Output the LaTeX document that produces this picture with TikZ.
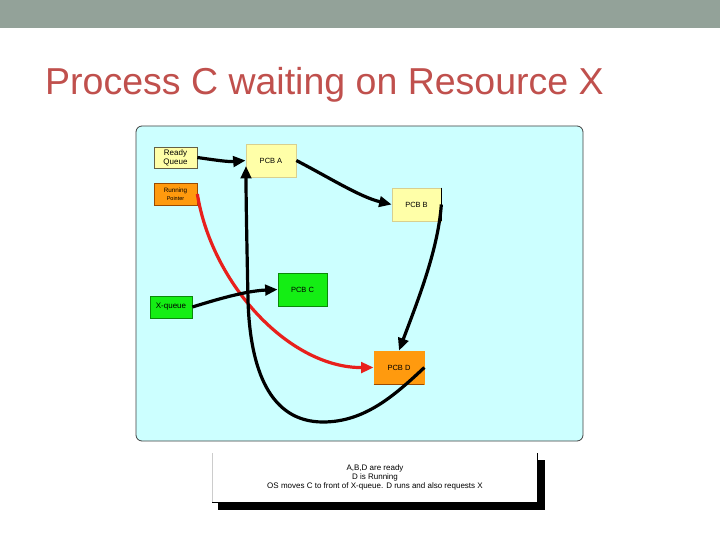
\documentclass[tikz,border=0pt]{standalone}
\usepackage{fontspec}
\setmainfont{Liberation Sans}
\usetikzlibrary{arrows.meta,calc}
\definecolor{barcol}{HTML}{93A299}
\definecolor{titlecol}{HTML}{C0504D}
\definecolor{panel}{HTML}{CCFFFF}
\definecolor{pale}{HTML}{FFFFA8}
\definecolor{paleline}{HTML}{D8D090}
\definecolor{orng}{HTML}{FF9A0E}
\definecolor{orngline}{HTML}{9A4A00}
\definecolor{grn}{HTML}{14EE14}
\definecolor{grnline}{HTML}{0A8A0A}
\definecolor{redline}{HTML}{E8201C}
\begin{document}
\begin{tikzpicture}[x=1pt,y=-1pt,
  box/.style={rectangle, inner sep=0pt, align=center, line width=0.7pt,
    font=\fontsize{7.5}{9}\selectfont},
  arr/.style={line width=3.2pt, -{Triangle[length=12.5pt,width=10.5pt]}},
]
\useasboundingbox (0,0) rectangle (720,540);
\fill[white] (0,0) rectangle (720,540);
\fill[barcol] (0,0) rectangle (720,28);
\node[anchor=base west, text=titlecol, inner sep=0pt,
  font=\fontsize{37.5}{40}\selectfont] (title) at (45,95) {Process C waiting on Resource X};
\draw[rounded corners=6pt, fill=panel, draw=black!75, line width=0.8pt] (136,126) rectangle (583,441);

\node[box, fill=pale, draw=black!70!yellow, minimum width=43pt, minimum height=21pt,
  font=\fontsize{8}{9}\selectfont] (RQ) at (175.5,157.5) {Ready\\Queue};
\node[box, fill=pale, draw=paleline, minimum width=50pt, minimum height=33pt] (PCBA) at (271,160.5) {PCB A};
\node[box, fill=orng, draw=orngline, minimum width=43pt, minimum height=22pt] (RP) at (175.5,194)
  {{\fontsize{6.3}{7}\selectfont Running}\\[-1pt]{\fontsize{5.5}{6}\selectfont Pointer}};
\node[box, fill=pale, draw=paleline, minimum width=49pt, minimum height=33pt] (PCBB) at (416.5,204.5) {PCB B};
\node[box, fill=grn, draw=grnline, minimum width=49pt, minimum height=33pt] (PCBC) at (302.5,289.5) {PCB C};
\node[box, fill=grn, draw=grnline, minimum width=42pt, minimum height=22pt,
  font=\fontsize{8}{9}\selectfont] (XQ) at (171,307) {X-queue};
\node[box, fill=orng, draw=orng, minimum width=50pt, minimum height=33pt] (PCBD) at (399,367.5) {PCB D};
\draw[orngline, line width=1pt] (PCBD.south west) -- (PCBD.south east);
\draw[line width=1pt] (PCBB.north east) -- (PCBB.south east);

\coordinate (atip) at (246,166);

\draw[arr] (RQ.east) .. controls (215,160) and (228,162) .. (PCBA.west);
\draw[arr] (PCBA.east) .. controls (330,178) and (360,197) .. (PCBB.west);
\draw[arr] (PCBB.east) .. controls (438,250) and (418,300) .. (PCBD.north);
\draw[arr, redline] (RP.east) .. controls (212,285) and (290,368) .. (PCBD.west);
\draw[arr] (PCBD.east) .. controls (395,395) and (365,422) .. (323,422)
  .. controls (270,422) and (250,370) .. (248,300)
  .. controls (247,250) and (246,200) .. (atip);
\draw[arr] (XQ.east) .. controls (215,300) and (245,291) .. (PCBC.west);

% note box with shadow
\fill[black] (218,460) rectangle (545,510);
\fill[white] (212,453) rectangle (537,502);
\draw[black!20, line width=0.8pt] (212,453) -- (212,502);
\draw[black, line width=0.8pt] (212,502) -- (537,502);
\draw[black, line width=0.8pt] (537,453) -- (537,460);
\node[align=center, inner sep=0pt, font=\fontsize{8}{8.6}\selectfont] (note) at (375,477.5)
  {A,B,D are ready\\D is Running\\OS moves C to front of X-queue. D runs and also requests X};
\end{tikzpicture}
\end{document}
